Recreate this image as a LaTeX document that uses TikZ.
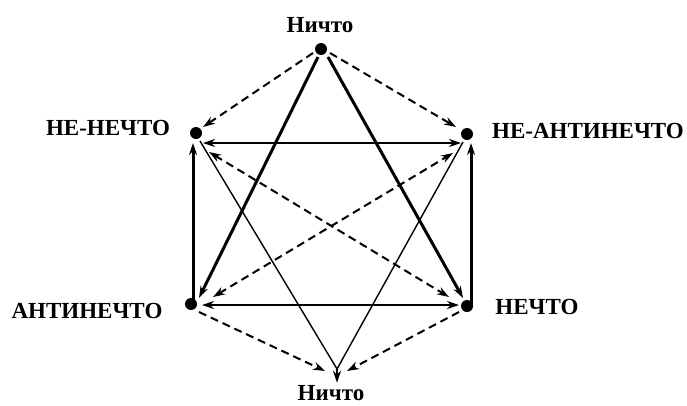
\documentclass[tikz,border=0pt]{standalone}
\usepackage{fontspec}
\setmainfont{Liberation Serif}
\usetikzlibrary{arrows.meta}

\tikzset{
  dot/.style={circle,fill,inner sep=0pt,minimum size=12pt},
  lbl/.style={font=\bfseries\fontsize{23}{25}\selectfont,inner sep=0pt},
  boldline/.style={line width=3pt},
  thinline/.style={line width=1.4pt},
  dashline/.style={line width=2pt,dash pattern=on 8pt off 5pt},
}

\begin{document}
\begin{tikzpicture}[x=1pt,y=-1pt,>={Stealth[length=12pt,width=8pt]}]
\useasboundingbox (0,0) rectangle (687,405);
% points of the hexagon
\node[dot] (top) at (321,49) {};
\node[dot] (nn) at (196,133) {};
\node[dot] (na) at (467,134) {};
\node[dot] (an) at (191,304) {};
\node[dot] (ne) at (467,306) {};
\coordinate (bot) at (337,369);
% labels
\node[lbl] (toplbl) at (320,25) {Ничто};
\node[lbl] (nnlbl) at (108,128) {НЕ-НЕЧТО};
\node[lbl] (nalbl) at (588,131) {НЕ-АНТИНЕЧТО};
\node[lbl] (anlbl) at (87,311) {АНТИНЕЧТО};
\node[lbl] (nelbl) at (537,307) {НЕЧТО};
\node[lbl,anchor=base] (botlbl) at (331,400) {Ничто};

% from the top
\draw[dashline,->] ([shift={(-8,4)}]top.center) -- ([shift={(7,-6)}]nn.center);
\draw[dashline,->] ([shift={(9,4)}]top.center) -- ([shift={(-11,-7)}]na.center);
\draw[boldline,->] ([shift={(-3,8)}]top.center) -- ([shift={(8,-6)}]an.center);
\draw[boldline,->] ([shift={(7,8)}]top.center) -- ([shift={(-4,-8)}]ne.center);

% sides
\draw[boldline,->] ([shift={(2,0)}]an.center) -- ([shift={(-3,10)}]nn.center);
\draw[boldline,->] ([shift={(4,0)}]ne.center) -- ([shift={(4,9)}]na.center);
\draw[thinline,<->] ([shift={(7,10)}]nn.center) -- ([shift={(-6,9)}]na.center);
\draw[thinline,<->] ([shift={(11,1)}]an.center) -- ([shift={(-8,-1)}]ne.center);

% diagonals
\draw[dashline,<->] ([shift={(13,19)}]nn.center) -- ([shift={(-18,-9)}]ne.center);
\draw[dashline,<->] ([shift={(22,-7)}]an.center) -- ([shift={(-14,19)}]na.center);

% to the bottom
\draw[thinline] ([shift={(4,8)}]nn.center) -- (bot);
\draw[thinline] ([shift={(-4,8)}]na.center) -- (bot);
\draw[thinline,->] (bot) -- ([yshift=2pt]bot |- botlbl.north);
\draw[dashline,->] ([shift={(8,8)}]an.center) -- ([shift={(-12,2)}]bot);
\draw[dashline,->] ([shift={(-8,6)}]ne.center) -- ([shift={(10,2)}]bot);
\end{tikzpicture}
\end{document}
